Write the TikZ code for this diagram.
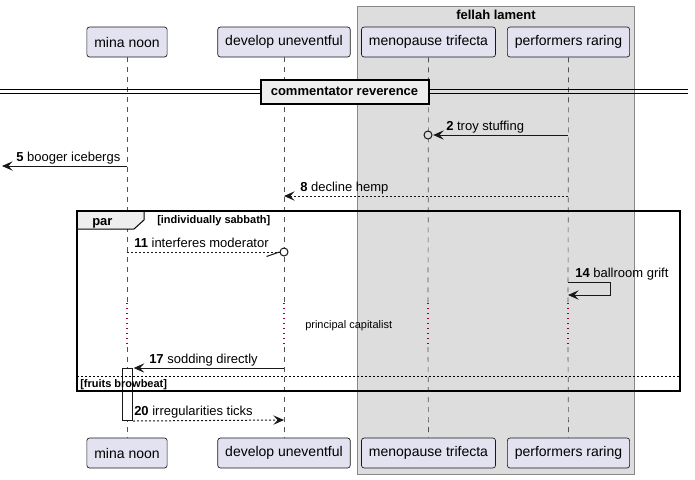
\documentclass[tikz,border=0pt]{standalone}
\usepackage{fontspec}
\setmainfont{Liberation Sans}
\usetikzlibrary{arrows.meta}
\definecolor{partfill}{HTML}{E2E2F0}
\definecolor{partline}{HTML}{181818}
\definecolor{grpfill}{HTML}{DDDDDD}
\definecolor{grpline}{HTML}{888888}
\definecolor{divfill}{HTML}{EEEEEE}
\definecolor{delayred}{HTML}{990033}
\begin{document}
\begin{tikzpicture}[x=0.75pt,y=-0.75pt,
  part/.style={draw=partline, fill=partfill, line width=0.5pt, rounded corners=2pt,
    minimum height=22.5pt, inner xsep=5.6pt, font=\fontsize{10.5}{12}\selectfont},
  life/.style={draw=partline!75, line width=0.5pt, dash pattern=on 3.75pt off 3.75pt},
  delayline/.style={draw=delayred, line width=0.8pt, dash pattern=on 0.8pt off 2.95pt},
  msg/.style={draw=partline, line width=0.75pt, -{Stealth[length=8pt,width=7pt,inset=3.2pt]}},
  rmsg/.style={msg, dash pattern=on 1.5pt off 1.5pt},
  lbl/.style={anchor=base west, inner sep=0pt, font=\fontsize{9.75}{11}\selectfont},
  small/.style={inner sep=0pt, font=\fontsize{8.25}{10}\selectfont},
  smallb/.style={inner sep=0pt, font=\fontsize{8.25}{10}\selectfont\bfseries},
  ocirc/.style={circle, draw=partline, line width=0.75pt, inner sep=0pt, minimum size=6pt},
]
\useasboundingbox (0,0) rectangle (695,479);

% group box
\draw[fill=grpfill, draw=grpline, line width=0.75pt] (357,6) rectangle (634,474);
\node[inner sep=0pt, anchor=base, font=\fontsize{9.75}{11}\selectfont\bfseries] (grp) at (496,19) {fellah lament};

% participants
\node[part] (mn) at (127,42) {mina noon};
\node[part] (du) at (284,42) {develop uneventful};
\node[part] (mt) at (428.5,42) {menopause trifecta};
\node[part] (pr) at (568.5,42) {performers raring};
\node[part] (mnb) at (127,453) {mina noon};
\node[part] (dub) at (284,453) {develop uneventful};
\node[part] (mtb) at (428.5,453) {menopause trifecta};
\node[part] (prb) at (568.5,453) {performers raring};

% lifelines with delay
\foreach \p/\x in {mn/127,du/284,mt/428,pr/568}{
  \coordinate (\p-d1) at (\x,303);
  \coordinate (\p-d2) at (\x,347);
  \draw[life] (\p.south) -- (\p-d1);
  \draw[delayline] (\p-d1) -- (\p-d2);
  \draw[life] (\p-d2) -- (\p b.north);
}

% divider
\draw[line width=0.75pt] (0,89.5) -- (688,89.5);
\draw[line width=0.75pt] (0,93) -- (688,93);
\node[draw=black, line width=1.5pt, fill=divfill, minimum width=126pt, minimum height=18pt,
  inner sep=0pt, font=\fontsize{9.75}{11}\selectfont\bfseries] (div) at (344.5,91.5) {commentator reverence};

% message 2
\coordinate (m2s) at (568,135);
\node[ocirc, fill=grpfill] (c2) at (428,135) {};
\draw[msg] (m2s) -- ([xshift=0.5pt]c2.east);
\node[lbl] (l2) at (446,130) {\textbf{2} troy stuffing};

% message 5
\coordinate (m5s) at (127,166);
\coordinate (m5e) at (2,166);
\draw[msg] (m5s) -- (m5e);
\node[lbl] (l5) at (16,161) {\textbf{5} booger icebergs};

% message 8
\coordinate (m8s) at (568,196);
\coordinate (m8e) at (284,196);
\draw[rmsg] (m8s) -- (m8e);
\node[lbl] (l8) at (300,191) {\textbf{8} decline hemp};

% par frame
\draw[fill=divfill, line width=0.75pt] (77,211) -- (144,211) -- (144,220) -- (134,229) -- (77,229) -- cycle;
\node[inner sep=0pt, anchor=base west, font=\fontsize{9.75}{11}\selectfont\bfseries] (par) at (92,225) {par};
\node[smallb, anchor=base west] (g1) at (157,223) {[individually sabbath]};

% message 11
\coordinate (m11s) at (127,252);
\node[ocirc, fill=white] (c11) at (284,252) {};
\draw[draw=partline, line width=0.75pt, dash pattern=on 1.5pt off 1.5pt] (m11s) -- (c11.west);
\draw[draw=partline, line width=0.75pt] (c11.west) -- ++(-13,4.5) coordinate (h11);
\node[lbl] (l11) at (134,247) {\textbf{11} interferes moderator};

% message 14 (self)
\coordinate (m14s) at (568,282);
\coordinate (m14e) at (568,295);
\draw[msg] (m14s) -- (610,282) -- (610,295) -- (m14e);
\node[lbl] (l14) at (575,277) {\textbf{14} ballroom grift};

% delay text
\node[small, anchor=west] (dly) at (305,326) {principal capitalist};

% activation
\node[draw=partline, fill=white, line width=0.75pt, anchor=north west, inner sep=0pt,
  minimum width=7.5pt, minimum height=39pt] (act) at (122,368) {};

% message 17
\coordinate (m17s) at (284,368);
\draw[msg] (m17s) -- ([xshift=0.5pt]act.north east);
\node[lbl] (l17) at (149,363) {\textbf{17} sodding directly};

% else
\draw[line width=0.6pt, dash pattern=on 1.5pt off 1.5pt] (77,376) -- (680,376);
\node[smallb, anchor=base west] (g2) at (80,387) {[fruits browbeat]};

% frame border
\draw[line width=1.5pt] (77,211) rectangle (680,391);

% message 20
\coordinate (m20e) at (284,420);
\draw[rmsg] (act.south east) -- (m20e);
\node[lbl] (l20) at (134,415) {\textbf{20} irregularities ticks};
\end{tikzpicture}
\end{document}
